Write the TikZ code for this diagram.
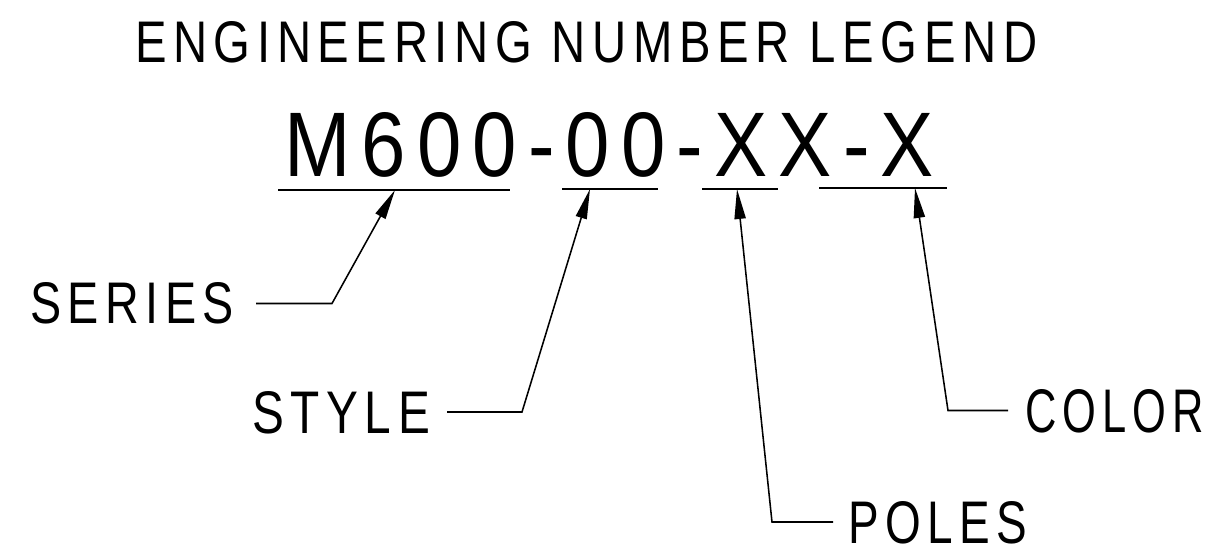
\documentclass[tikz,border=0pt]{standalone}
\usepackage{fontspec}
\setmainfont{Liberation Sans}
\newfontfamily\cadfont{Liberation Sans}[LetterSpace=14]
\usetikzlibrary{arrows.meta, calc}

% text squeezed into the box it takes in the drawing
\newcommand{\cadtext}[3]{\resizebox{#1}{#2}{\cadfont #3}}

\begin{document}
\begin{tikzpicture} [
    x=0.025cm, y=-0.025cm,
    lbl/.style={anchor=base west, inner sep=0pt, outer sep=0pt, text depth=0pt},
    pointer/.style={-{Triangle[length=0.75cm, width=0.28cm]}, line width=1.1pt},
    uline/.style={line width=1.1pt}
]
\useasboundingbox (0,0) rectangle (1230,550);

% Define all texts first
\node[lbl] (title) at (135,63) {\cadtext{22.55cm}{1.025cm}{ENGINEERING NUMBER LEGEND}};
\node[lbl] (code) at (284,177) {\cadtext{16.25cm}{1.6cm}{M600-00-XX-X}};
\node[lbl] (series) at (30,324) {\cadtext{5.1cm}{1.025cm}{SERIES}};
\node[lbl] (style) at (252,433) {\cadtext{4.45cm}{1.05cm}{STYLE}};
\node[lbl] (poles) at (848,543) {\cadtext{4.47cm}{1.05cm}{POLES}};
\node[lbl] (color) at (1025,432) {\cadtext{4.47cm}{1.075cm}{COLOR}};

% Underlines below the number
\draw[uline] (278,190) -- (510,190);
\draw[uline] (562,189) -- (658,189);
\draw[uline] (702,189) -- (778,189);
\draw[uline] (819,188) -- (947,188);

% Arrow tips and bends
\coordinate (series-tip) at (395,190);
\coordinate (style-tip) at (590,189);
\coordinate (poles-tip) at (737,189);
\coordinate (color-tip) at (915,188);
\coordinate (series-bend) at (332,303);
\coordinate (style-bend) at (522,410);
\coordinate (poles-bend) at (772,524);
\coordinate (color-bend) at (948,412);

% Leaders
\draw[pointer] (256,0 |- series.east) -- (series.east -| series-bend) -- (series-tip);
\draw[pointer] (447,0 |- style.east) -- (style.east -| style-bend) -- (style-tip);
\draw[pointer] ([xshift=-0.375cm]poles.west) -- (poles.west -| poles-bend) -- (poles-tip);
\draw[pointer] ([xshift=-0.425cm]color.west) -- (color.west -| color-bend) -- (color-tip);

\end{tikzpicture}
\end{document}
